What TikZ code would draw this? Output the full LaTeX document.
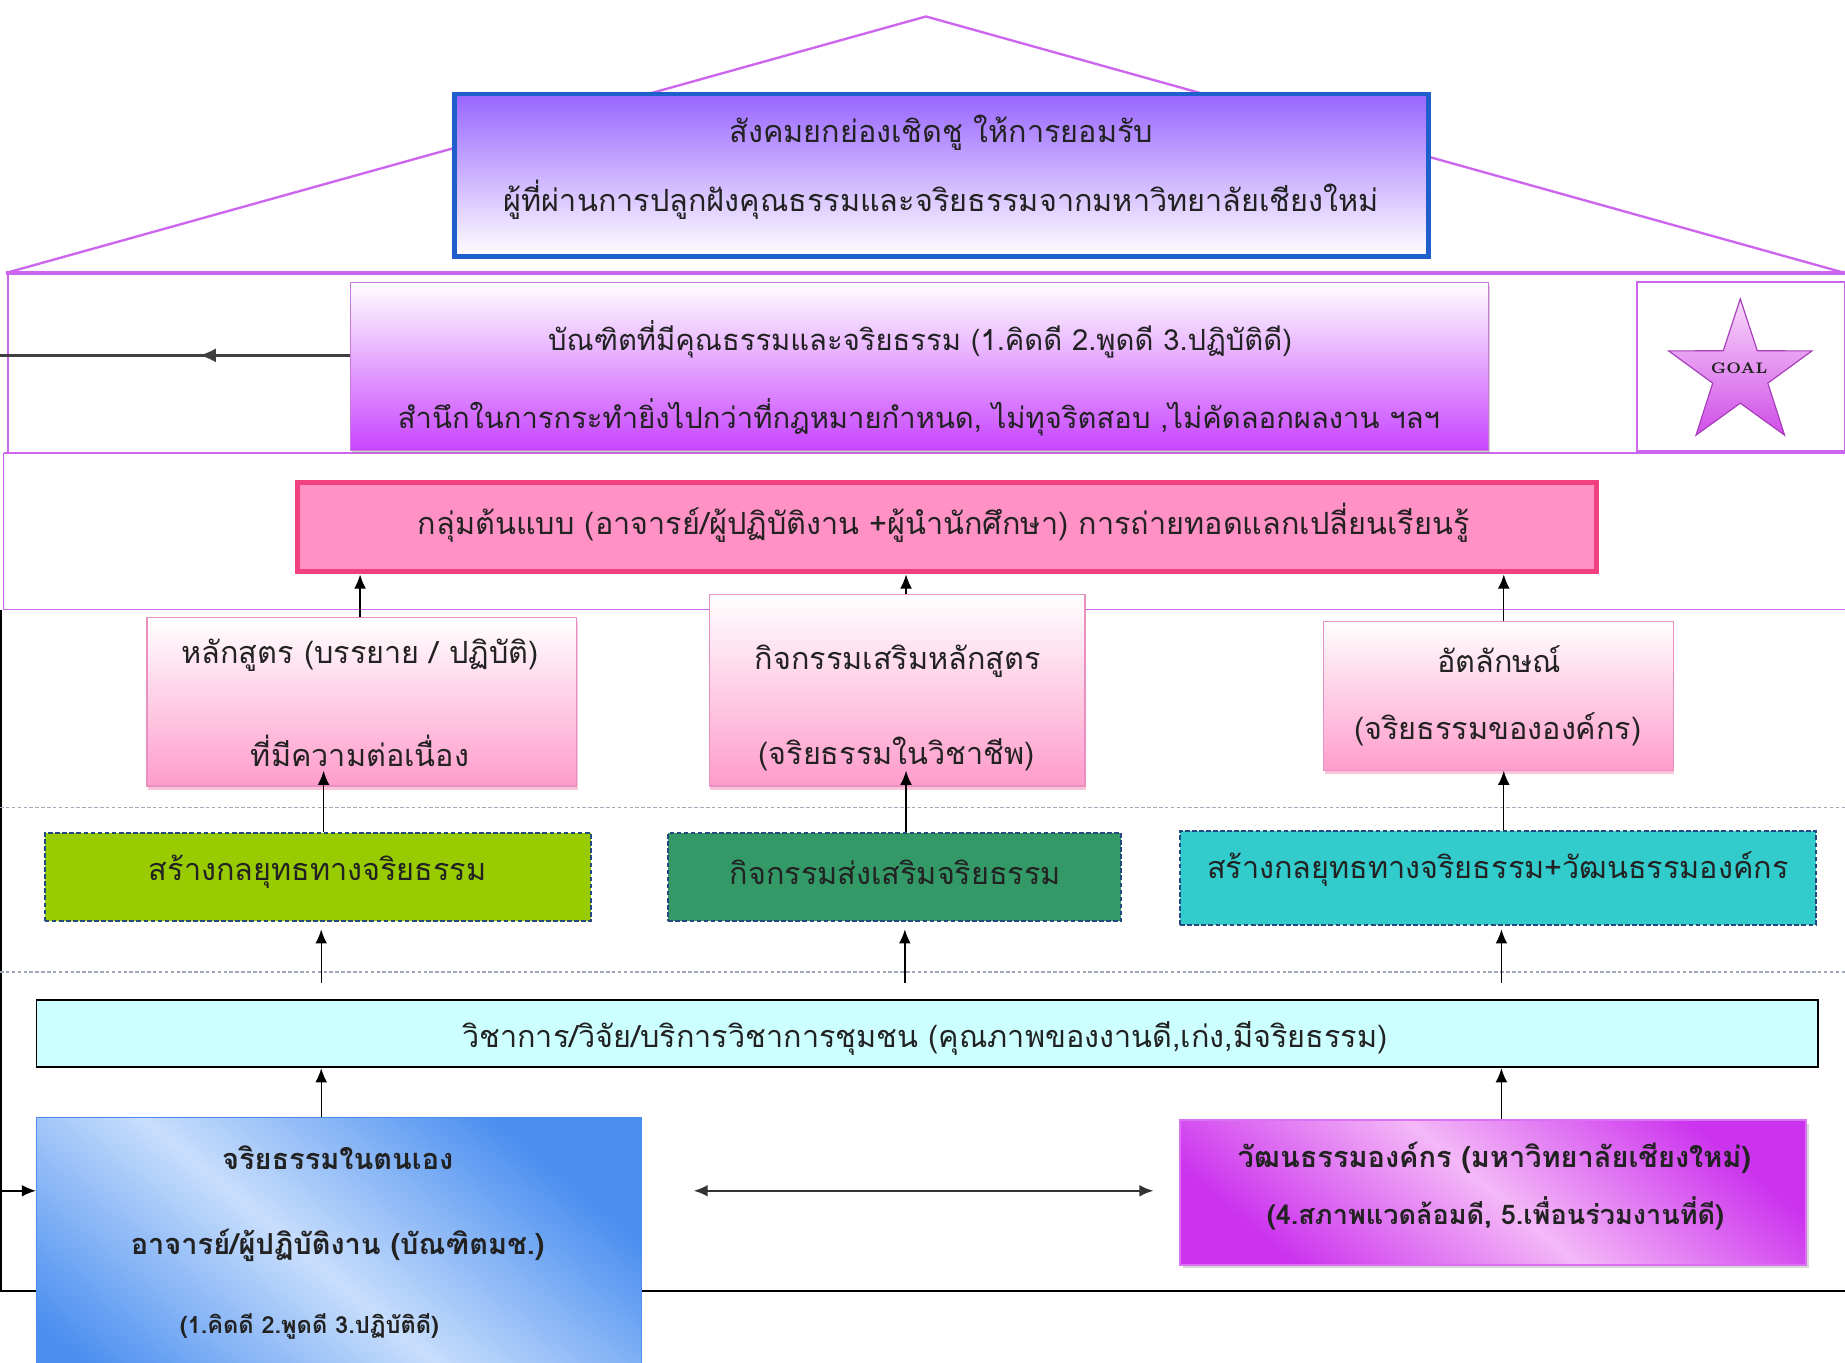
\documentclass[tikz,border=0pt]{standalone}
\usepackage{fontspec}
\newfontfamily\thai[Script=Thai]{Loma}
\usetikzlibrary{arrows.meta,shapes.geometric,shadows,decorations.markings}
\definecolor{roof}{HTML}{CC66EE}
\definecolor{topborder}{HTML}{1E5FCC}
\definecolor{topfill}{HTML}{9966FF}
\definecolor{gradfill}{HTML}{C844FF}
\definecolor{gradborder}{HTML}{CC77DD}
\definecolor{pinkfill}{HTML}{FF91C4}
\definecolor{pinkborder}{HTML}{F0407F}
\definecolor{lightpink}{HTML}{FF9CCB}
\definecolor{lightpinkborder}{HTML}{E890C0}
\definecolor{greenA}{HTML}{99CC00}
\definecolor{greenB}{HTML}{339966}
\definecolor{tealC}{HTML}{33CCCC}
\definecolor{dashblue}{HTML}{254A80}
\definecolor{cyanfill}{HTML}{CCFFFF}
\definecolor{blueDark}{HTML}{4A8EF0}
\definecolor{blueLight}{HTML}{C8DEFC}
\definecolor{magDark}{HTML}{CC33EE}
\definecolor{magLight}{HTML}{F4B8F7}
\definecolor{starTop}{HTML}{F8D8FA}
\definecolor{starBot}{HTML}{D04EE8}
\definecolor{sepgray}{HTML}{A0A8B8}
\definecolor{txt}{HTML}{222222}
\newcommand\mybox[6]{\node[#6, inner sep=0pt, minimum width={(#4-#2)*0.5pt}, minimum height={(#5-#3)*0.5pt}] (#1) at ({(#2+#4)/2},{(#3+#5)/2}) {};}
\tikzset{
  roofline/.style={draw=roof, line width=1pt},
  frameline/.style={draw=roof, line width=0.8pt},
  lbl/.style={font=\thai\fontsize{13}{15}\selectfont, text=txt, inner sep=0pt},
  glbl/.style={font=\thai\fontsize{12.4}{14}\selectfont, text=txt, inner sep=0pt},
  blbl/.style={font=\thai\bfseries\fontsize{12.3}{14}\selectfont, text=txt, inner sep=0pt},
  topbox/.style={draw=topborder, line width=2pt, top color=topfill, bottom color=white},
  gradbox/.style={draw=gradborder, line width=0.6pt, top color=white, bottom color=gradfill,
     drop shadow={shadow xshift=0.5pt, shadow yshift=-1.2pt, opacity=0.35}},
  bandbox/.style={draw=pinkborder, line width=2.2pt, fill=pinkfill},
  smallpink/.style={draw=lightpinkborder, line width=0.6pt, top color=white, bottom color=lightpink,
     drop shadow={shadow xshift=0.4pt, shadow yshift=-1.5pt, opacity=0.3, fill=pinkborder}},
  dashbox/.style={draw=dashblue, line width=0.8pt, dash pattern=on 2pt off 1pt},
  cyanbox/.style={draw=black, line width=0.8pt, fill=cyanfill},
  bluebox/.style={draw=blueDark, line width=0.4pt, left color=blueDark, right color=blueDark, middle color=blueLight, shading angle=140},
  magbox/.style={draw=magDark!70, line width=0.6pt, left color=magDark, right color=magDark, middle color=magLight, shading angle=140,
     drop shadow={shadow xshift=1pt, shadow yshift=-1.5pt, opacity=0.3}},
  arr/.style={-{Latex[length=6pt,width=5pt]}, line width=0.6pt, draw=black},
  darr/.style={{Latex[length=6pt,width=5pt]}-{Latex[length=6pt,width=5pt]}, line width=1pt, draw=black!80},
  sep/.style={draw=sepgray, line width=0.5pt, dash pattern=on 1.5pt off 1pt},
}
\begin{document}
\begin{tikzpicture}[x=0.5pt,y=-0.5pt]
\useasboundingbox (0,0) rectangle (1568,1158);
\clip (0,0) rectangle (1568,1158);
\fill[white] (0,0) rectangle (1568,1158);
% roof
\coordinate (rl) at (5,232);
\coordinate (apex) at (787,14);
\coordinate (rr) at (1568,232);
\draw[roofline] (rl) -- (apex) -- (rr);
\draw[draw=roof, line width=1.5pt] (rl) -- (rr);
% band frames
\draw[frameline] (7,233) -- (7,385);
\draw[frameline] (3,385) -- (1568,385);
\draw[frameline] (3,385) -- (3,518) -- (1568,518);
% black outer frame
\draw[draw=black, line width=0.8pt] (1,518) -- (1,1097) -- (1568,1097);
% separators
\draw[sep] (0,686) -- (1568,686);
\draw[sep] (0,826) -- (1568,826);
% top box
\mybox{top}{386}{80}{1214}{218}{topbox}
\node[lbl] (top1) at (800,113) {สังคมยกย่องเชิดชู ให้การยอมรับ};
\node[lbl] (top2) at (800,170) {ผู้ที่ผ่านการปลูกฝังคุณธรรมและจริยธรรมจากมหาวิทยาลัยเชียงใหม่};
% graduate box
\mybox{grad}{298}{240}{1265}{383}{gradbox}
\node[glbl] (grad1) at (782,288) {บัณฑิตที่มีคุณธรรมและจริยธรรม (1.คิดดี 2.พูดดี 3.ปฏิบัติดี)};
\node[glbl] (grad2) at (781,355) {สำนึกในการกระทำยิ่งไปกว่าที่กฎหมายกำหนด, ไม่ทุจริตสอบ ,ไม่คัดลอกผลงาน ฯลฯ};
\coordinate (leftend) at (0,302);
\draw[line width=1pt, draw=black!75, postaction={decorate}, decoration={markings, mark=at position 0.43 with {\arrow{Latex[length=7pt,width=6pt]}}}] (grad.west |- leftend) -- (leftend);
% goal box
\mybox{goalbox}{1391}{240}{1568}{383}{draw=roof, line width=0.8pt}
\node[star, star points=5, star point ratio=2.6, minimum size=64pt, inner sep=0pt, draw=starBot!80!black, line width=0.5pt, top color=starTop, bottom color=starBot] (star) at (1479,318) {};
\node[font=\rmfamily\bfseries\fontsize{6.5}{7}\selectfont, text=txt, inner sep=0pt] (goal) at (1478,313) {GOAL};
% band
\mybox{band}{253}{410}{1357}{486}{bandbox}
\node[lbl] (band1) at (802,444) {กลุ่มต้นแบบ (อาจารย์/ผู้ปฏิบัติงาน +ผู้นำนักศึกษา) การถ่ายทอดแลกเปลี่ยนเรียนรู้};
% small pink boxes
\mybox{p1}{125}{525}{490}{668}{smallpink}
\node[lbl] (p1a) at (306,557) {หลักสูตร (บรรยาย / ปฏิบัติ)};
\node[lbl] (p1b) at (306,638) {ที่มีความต่อเนื่อง};
\mybox{p2}{603}{505}{922}{668}{smallpink}
\node[lbl] (p2a) at (763,562) {กิจกรรมเสริมหลักสูตร};
\node[lbl] (p2b) at (762,641) {(จริยธรรมในวิชาชีพ)};
\mybox{p3}{1125}{528}{1422}{655}{smallpink}
\node[lbl] (p3a) at (1274,560) {อัตลักษณ์};
\node[lbl] (p3b) at (1273,620) {(จริยธรรมขององค์กร)};
% green boxes
\mybox{g1}{38}{708}{502}{783}{dashbox, fill=greenA}
\node[lbl] (g1t) at (270,741) {สร้างกลยุทธทางจริยธรรม};
\mybox{g2}{568}{708}{953}{783}{dashbox, fill=greenB}
\node[lbl] (g2t) at (761,741) {กิจกรรมส่งเสริมจริยธรรม};
\mybox{g3}{1003}{706}{1543}{786}{dashbox, fill=tealC}
\node[lbl] (g3t) at (1273,739) {สร้างกลยุทธทางจริยธรรม+วัฒนธรรมองค์กร};
% cyan
\mybox{cy}{31}{850}{1545}{907}{cyanbox}
\node[lbl] (cyt) at (786,883) {วิชาการ/วิจัย/บริการวิชาการชุมชน (คุณภาพของงานดี,เก่ง,มีจริยธรรม)};
% blue box
\mybox{bl}{31}{950}{545}{1230}{bluebox}
\node[blbl] (bl1) at (287,984) {จริยธรรมในตนเอง};
\node[blbl] (bl2) at (287,1058) {อาจารย์/ผู้ปฏิบัติงาน (บัณฑิตมช.)};
\node[blbl, font=\thai\bfseries\fontsize{10}{12}\selectfont] (bl3) at (263,1127) {(1.คิดดี 2.พูดดี 3.ปฏิบัติดี)};
% magenta box
\mybox{mg}{1003}{952}{1535}{1075}{magbox}
\node[blbl] (mg1) at (1270,984) {วัฒนธรรมองค์กร (มหาวิทยาลัยเชียงใหม่)};
\node[blbl, font=\thai\bfseries\fontsize{11.5}{13}\selectfont] (mg2) at (1271,1031) {(4.สภาพแวดล้อมดี, 5.เพื่อนร่วมงานที่ดี)};
% arrows
\coordinate (xa) at (306,0);
\coordinate (xb) at (770,0);
\coordinate (xc) at (1278,0);
\draw[arr] (p1.north -| xa) -- (band.south -| xa);
\draw[arr] (p2.north -| xb) -- (band.south -| xb);
\draw[arr] (p3.north -| xc) -- (band.south -| xc);
\coordinate (xd) at (275,655);
\coordinate (xe) at (770,655);
\coordinate (xf) at (1278,655);
\draw[arr] (g1.north -| xd) -- (xd);
\draw[arr] (g2.north -| xe) -- (xe);
\draw[arr] (g3.north -| xf) -- (xf);
\coordinate (xg) at (273,0);
\coordinate (xh) at (769,0);
\coordinate (xi) at (1276,0);
\draw[arr, shorten <=7pt, shorten >=3pt] (cy.north -| xg) -- (g1.south -| xg);
\draw[arr, shorten <=7pt, shorten >=3pt] (cy.north -| xh) -- (g2.south -| xh);
\draw[arr, shorten <=7pt, shorten >=1.5pt] (cy.north -| xi) -- (g3.south -| xi);
\draw[arr] (bl.north -| xg) -- (cy.south -| xg);
\draw[arr] (mg.north -| xi) -- (cy.south -| xi);
\coordinate (midy) at (0,1012);
\draw[darr, shorten <=22pt, shorten >=11pt] (bl.east |- midy) -- (mg.west |- midy);
\draw[arr, line width=0.8pt] (midy) -- (bl.west |- midy);
\end{tikzpicture}
\end{document}
